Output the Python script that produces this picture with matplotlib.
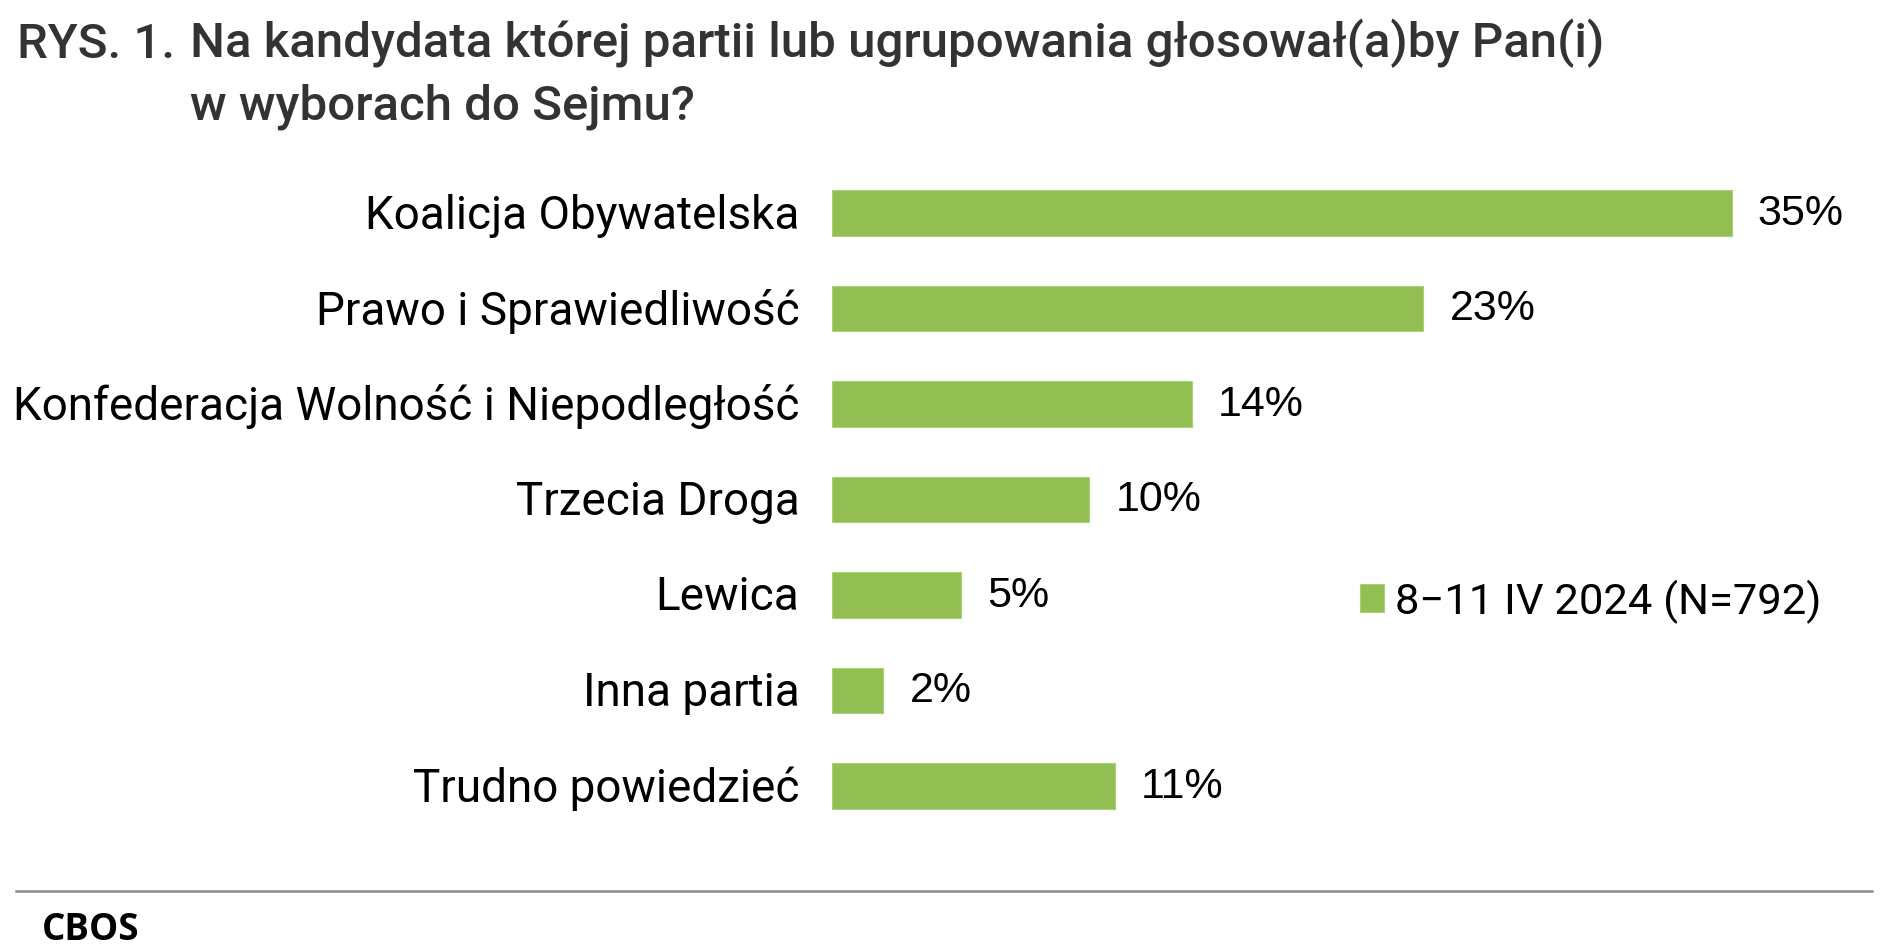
import matplotlib.pyplot as plt
from matplotlib.lines import Line2D
from matplotlib.transforms import ScaledTranslation

categories = ['Koalicja Obywatelska', 'Prawo i Sprawiedliwość',
              'Konfederacja Wolność i Niepodległość', 'Trzecia Droga',
              'Lewica', 'Inna partia', 'Trudno powiedzieć']
values = [35, 23, 14, 10, 5, 2, 11]
series_label = '8\u221211 IV 2024 (N=792)'
title_prefix = 'RYS. 1.'
title_lines = ['Na kandydata której partii lub ugrupowania głosował(a)by Pan(i)',
               'w wyborach do Sejmu?']
source = 'CBOS'

green = '#93bf52'
W, H = 1891, 953

fig = plt.figure(figsize=(W / 100, H / 100), dpi=100)
# axes placed so bars start at x=832 px, 25.7 px per percent point
ax = fig.add_axes([832 / W, (H - 834.75) / H, 40 * 25.7 / W, 668.5 / H])

y = list(range(len(categories)))
bars = ax.barh(y, values, height=0.48, color=green, edgecolor='#a9cf77',
               linewidth=0.8, label=series_label)
ax.set_xlim(0, 40)
ax.set_ylim(len(categories) - 0.5, -0.5)

ax.set_yticks(y)
ax.set_yticklabels(categories, family='Roboto', fontsize=33, color='black')
ax.tick_params(axis='y', length=0, pad=23.5)
# nudge category labels up a few pixels
for lbl in ax.get_yticklabels():
    lbl.set_transform(lbl.get_transform() + ScaledTranslation(0, 0.03, fig.dpi_scale_trans))
ax.set_xticks([])
for s in ax.spines.values():
    s.set_visible(False)

for yi, v in zip(y, values):
    ax.annotate(f'{v}%', xy=(v, yi), xytext=(19, 0), textcoords='offset points',
                ha='left', va='center', family='Liberation Sans', fontsize=31,
                color='black')

leg = fig.legend(handles=[bars], labels=[series_label], loc='center left',
                 bbox_to_anchor=(1360 / W, 1 - 602 / H), frameon=False,
                 prop={'family': 'Roboto', 'size': 31.3}, handlelength=0.55,
                 handleheight=0.6, handletextpad=0.25, borderpad=0,
                 borderaxespad=0)

# title with hanging indent
tkw = dict(family='Roboto', fontweight='medium', fontsize=35.5, color='#333333',
           va='baseline')
fig.text(17 / W, 1 - 57.5 / H, title_prefix, **tkw)
fig.text(190 / W, 1 - 57.5 / H, title_lines[0], **tkw)
fig.text(190 / W, 1 - 120 / H, title_lines[1], **tkw)

fig.add_artist(Line2D([16 / W, 1872 / W], [1 - 892 / H, 1 - 892 / H],
                      color='#8c8c8c', linewidth=1.8, transform=fig.transFigure))
fig.text(42 / W, 1 - 940 / H, source, family='Open Sans', fontweight='bold',
         fontsize=26.5, color='black', va='baseline')

fig.savefig('out.png', dpi=100, facecolor='white')
